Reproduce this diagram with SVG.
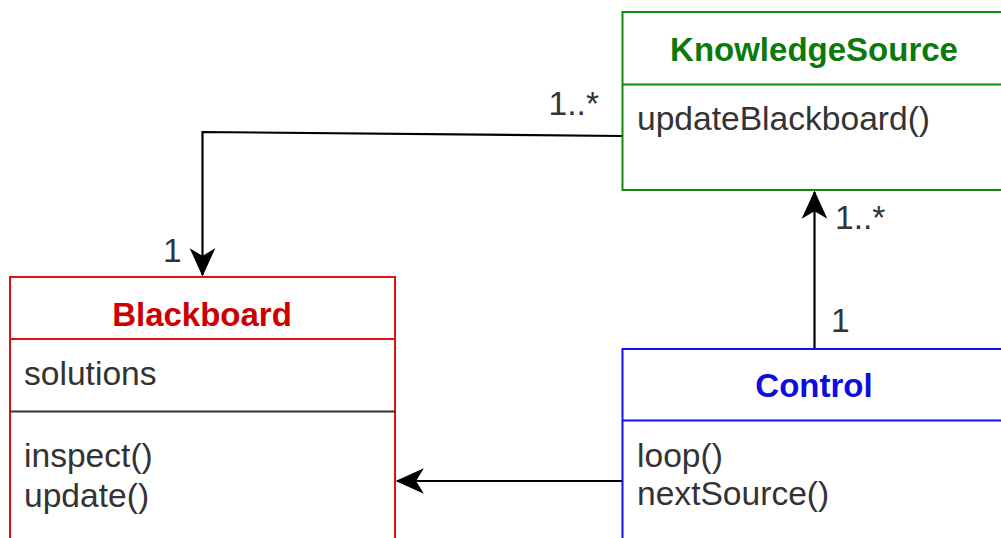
<svg xmlns="http://www.w3.org/2000/svg" width="1001" height="538" viewBox="0 0 1001 538">
<style>
text{font-family:"Liberation Sans",Arial,Helvetica,sans-serif;font-size:33.6px;fill:#333333}
.title{font-weight:bold;text-anchor:middle;font-size:33px}
.box{fill:#ffffff;stroke-width:2}
.conn{fill:none;stroke:#000000;stroke-width:2.2}
</style>
<defs>
<marker id="arrow" markerUnits="userSpaceOnUse" markerWidth="30" markerHeight="30" viewBox="-24 -12 26 24" refX="0" refY="0" orient="auto">
<path d="M0,0 L-22,-10 L-16,0 L-22,10 Z" fill="#000000" stroke="#000000" stroke-width="1" stroke-linejoin="miter"/>
</marker>
</defs>
<rect width="1001" height="538" fill="#ffffff"/>
<g id="connectors">
<path class="conn" d="M622,136 L202.5,132 L202.5,275" marker-end="url(#arrow)"/>
<path class="conn" d="M814.5,349 L814.5,192" marker-end="url(#arrow)"/>
<path class="conn" d="M622,481 L397,481" marker-end="url(#arrow)"/>
<text x="599" y="115" text-anchor="end">1..*</text>
<text x="163" y="262">1</text>
<text x="835" y="229">1..*</text>
<text x="831" y="332">1</text>
</g>
<g id="KnowledgeSource">
<rect class="box" x="622.5" y="12" width="400" height="178" stroke="#0f8a0f"/>
<line x1="622.5" y1="84.5" x2="1010" y2="84.5" stroke="#0f8a0f" stroke-width="2"/>
<text class="title" x="814" y="61" style="fill:#0b7a0b">KnowledgeSource</text>
<text x="637" y="130">updateBlackboard()</text>
</g>
<g id="Blackboard">
<rect class="box" x="10" y="277" width="385" height="280" stroke="#e01010"/>
<line x1="10" y1="339" x2="395" y2="339" stroke="#e01010" stroke-width="2"/>
<line x1="10" y1="411.5" x2="395" y2="411.5" stroke="#333333" stroke-width="2"/>
<text class="title" x="202" y="326" style="fill:#cc0000">Blackboard</text>
<text x="24" y="385">solutions</text>
<text x="24" y="467">inspect()</text>
<text x="24" y="507">update()</text>
</g>
<g id="Control">
<rect class="box" x="622.5" y="349" width="400" height="210" stroke="#1010f0"/>
<line x1="622.5" y1="420.5" x2="1010" y2="420.5" stroke="#1010f0" stroke-width="2"/>
<text class="title" x="814" y="397" style="fill:#0d0de0">Control</text>
<text x="637" y="467">loop()</text>
<text x="637" y="505">nextSource()</text>
</g>
</svg>
